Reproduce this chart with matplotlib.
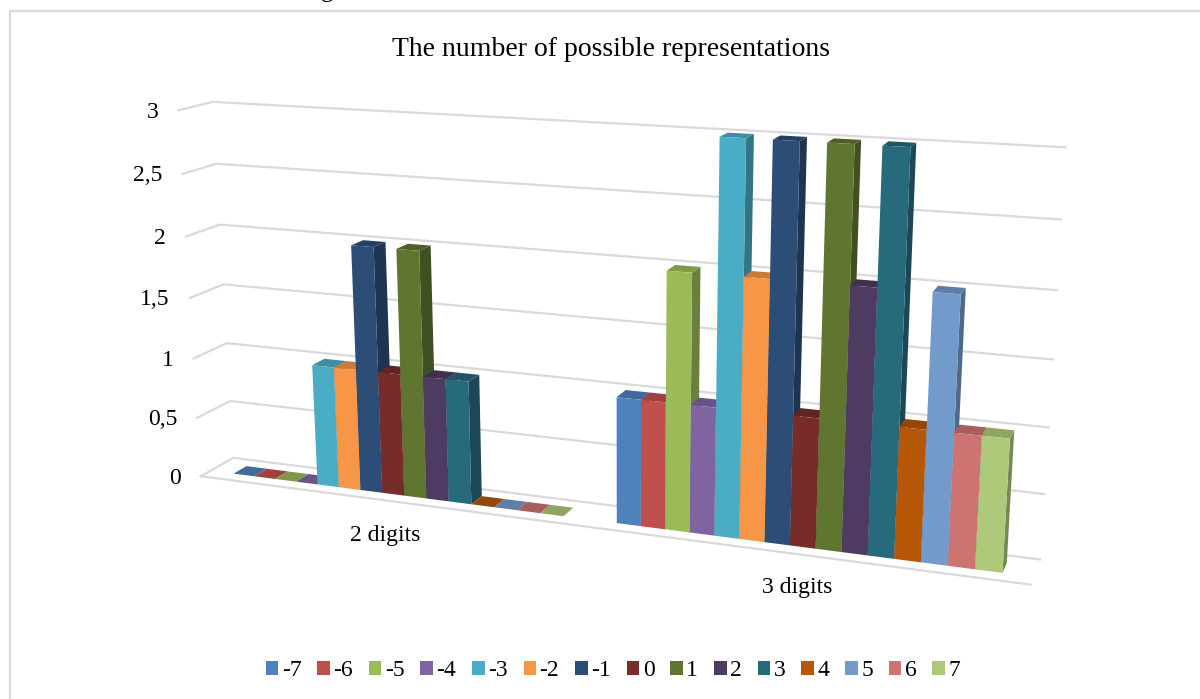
import matplotlib
matplotlib.use("Agg")
import matplotlib.pyplot as plt
from matplotlib.patches import Patch
import numpy as np

plt.rcParams['font.family'] = ['Liberation Serif', 'DejaVu Serif']

categories = ["2 digits", "3 digits"]
series_names = ["-7", "-6", "-5", "-4", "-3", "-2", "-1", "0", "1", "2", "3", "4", "5", "6", "7"]
two_digits = [0, 0, 0, 0, 1, 1, 2, 1, 2, 1, 1, 0, 0, 0, 0]
three_digits = [1, 1, 2, 1, 3, 2, 3, 1, 3, 2, 3, 1, 2, 1, 1]
colors = ["#4F81BD", "#C0504D", "#9BBB59", "#8064A2", "#4BACC6", "#F79646", "#2C4D75", "#772C2A",
          "#5F7530", "#4D3B62", "#276A7C", "#B65708", "#729ACA", "#CD7371", "#AFC97A"]
value_ticks = [0, 0.5, 1, 1.5, 2, 2.5, 3]
tick_labels = ["0", "0,5", "1", "1,5", "2", "2,5", "3"]

# camera fitted on the corners of the chart box: (category pos, value, depth) -> pixel
box_pts = [(0, 0, 0), (2, 0, 0), (0, 3, 0), (0, 2.5, 0),
           (0, 0, 1), (0, 0.5, 1), (0, 2.5, 1), (0, 3, 1),
           (2, 0, 1), (2, 0.5, 1), (2, 1, 1), (2, 1.5, 1), (2, 2, 1), (2, 2.5, 1), (2, 3, 1)]
box_px = [(201, 476), (1031, 584), (178, 110), (182, 175),
          (232, 458), (231, 401), (217, 163), (213, 102),
          (1041, 560), (1044, 494), (1048, 427), (1052, 360), (1057, 291), (1061, 219), (1066, 147)]

A = []
b = []
for (x, v, d), (px, py) in zip(box_pts, box_px):
    A.append([x, v, d, 1, 0, 0, 0, 0, -px * x, -px * v, -px * d])
    A.append([0, 0, 0, 0, x, v, d, 1, -py * x, -py * v, -py * d])
    b += [px, py]
cam = np.linalg.lstsq(np.array(A, float), np.array(b, float), rcond=None)[0]
cam = np.append(cam, 1).reshape(3, 4)


def proj(x, v, d):
    p = cam @ np.array([x, v, d, 1.0])
    return p[0] / p[2], p[1] / p[2]


def shade(col, f):
    return tuple(c * f for c in matplotlib.colors.to_rgb(col))


fig = plt.figure(figsize=(12, 6.99), dpi=100)
ax = fig.add_axes([0, 0, 1, 1])
ax.set_xlim(0, 1200)
ax.set_ylim(699, 0)
ax.axis("off")

# outer chart frame (top and left only are in the crop) and the cut off line of text above it
ax.plot([9.5, 9.5, 1200], [699, 11, 11], color="#D9D9D9", lw=1.6)
ax.text(327, -9, "g", fontsize=18, ha="center", va="center", color="black", clip_on=True)

GRID = "#D9D9D9"
for v, lab in zip(value_ticks, tick_labels):
    ax.plot(*zip(proj(0, v, 0), proj(0, v, 1), proj(2, v, 1)), color=GRID, lw=1.6, zorder=1)
    px, py = proj(0, v, 0)
    ax.text(px - 20, py + 2, lab, fontsize=17, ha="right", va="center")
ax.plot(*zip(proj(0, 0, 0), proj(2, 0, 0)), color=GRID, lw=1.6, zorder=1)

ax.text(610.5, 50, "The number of possible representations", fontsize=20, ha="center", va="center")

# bars, drawn left to right so the next bar covers the side of the one before
GAP = 0.13
DEPTH = (0.3, 0.7)
bar_w = (1 - GAP) / len(series_names)
z = 2
for g, vals in enumerate([two_digits, three_digits]):
    for i, val in enumerate(vals):
        x0 = g + GAP / 2 + i * bar_w
        x1 = x0 + bar_w
        d0, d1 = DEPTH
        col = colors[i]
        top = [proj(x0, val, d0), proj(x1, val, d0), proj(x1, val, d1), proj(x0, val, d1)]
        if val > 0:
            right = [proj(x1, 0, d0), proj(x1, val, d0), proj(x1, val, d1), proj(x1, 0, d1)]
            front = [proj(x0, 0, d0), proj(x1, 0, d0), proj(x1, val, d0), proj(x0, val, d0)]
            ax.fill(*zip(*right), color=shade(col, 0.68), lw=0, zorder=z)
            ax.fill(*zip(*top), color=shade(col, 0.82), lw=0, zorder=z)
            ax.fill(*zip(*front), color=col, lw=0, zorder=z)
        else:
            ax.fill(*zip(*top), color=shade(col, 0.82), lw=0, zorder=z)
        z += 1

for g, name in enumerate(categories):
    ax.text([385.5, 797][g], [535, 588][g], name, fontsize=17, ha="center", va="center", zorder=z)

handles = [Patch(facecolor=c, edgecolor="none") for c in colors]
ax.legend(handles, series_names, ncol=15, loc="center", bbox_to_anchor=(613, 671),
          bbox_transform=ax.transData, frameon=False, fontsize=17,
          handlelength=0.53, handleheight=0.55, handletextpad=0.15, columnspacing=0.67,
          borderpad=0, borderaxespad=0)

fig.savefig("out.png", dpi=100)
